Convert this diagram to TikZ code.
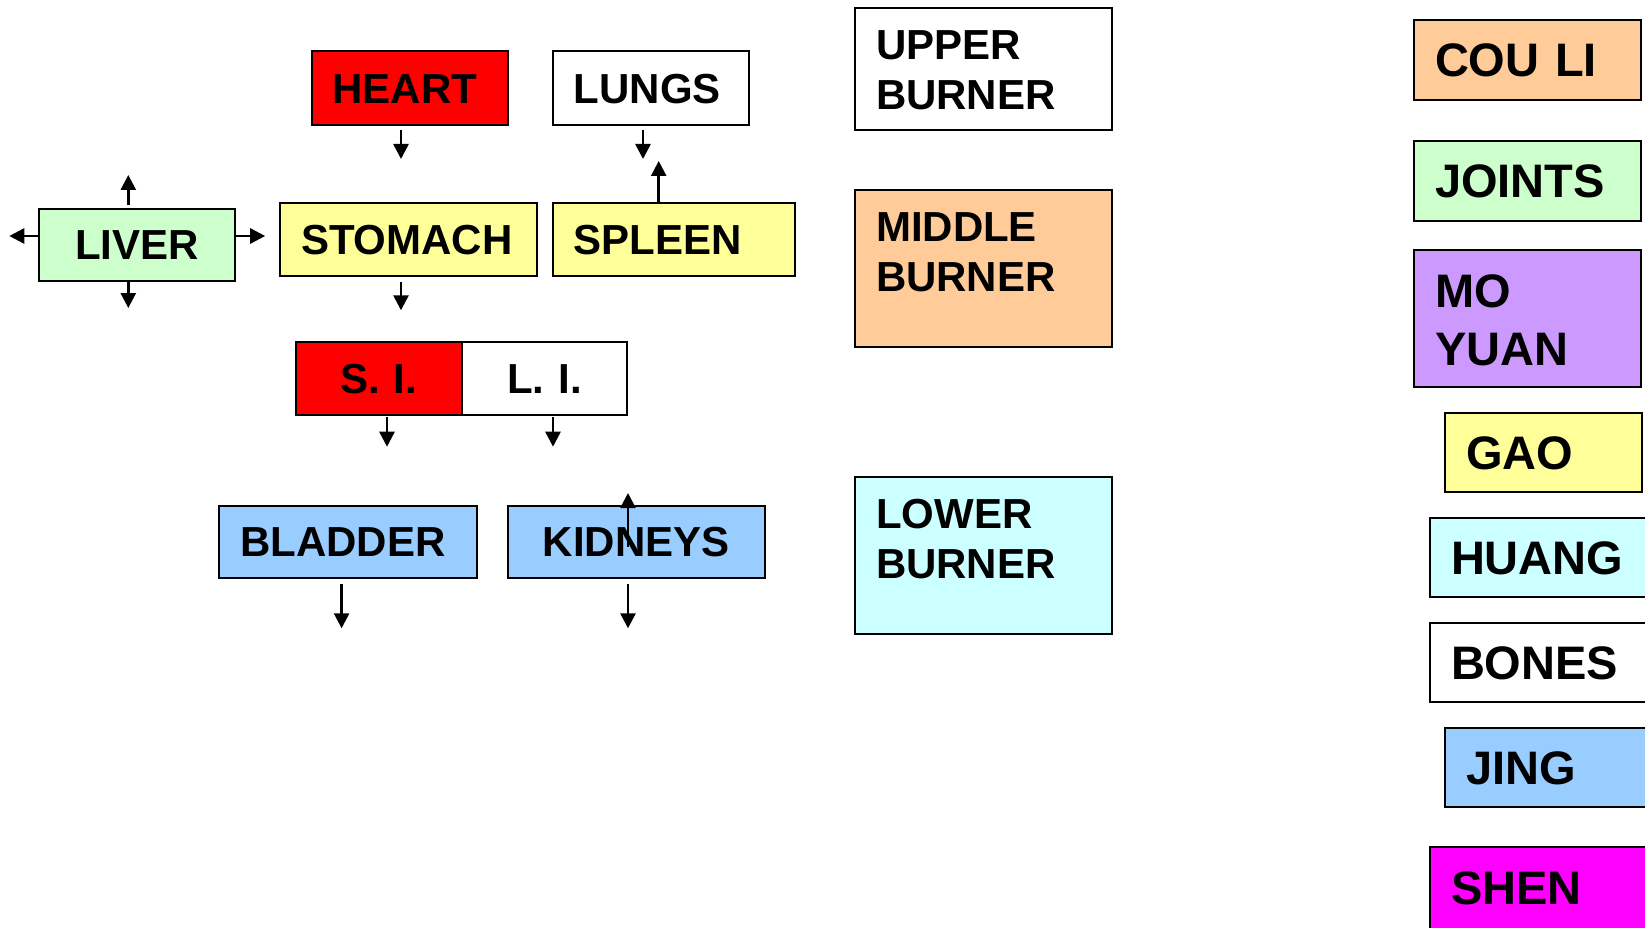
\documentclass[tikz,border=0pt]{standalone}
\usepackage{fontspec}
\setmainfont{Liberation Sans}
\usetikzlibrary{arrows.meta}
\definecolor{cRed}{HTML}{FF0000}
\definecolor{cGreen}{HTML}{CCFFCC}
\definecolor{cYellow}{HTML}{FFFF99}
\definecolor{cBlue}{HTML}{99CCFF}
\definecolor{cOrange}{HTML}{FFCC99}
\definecolor{cCyan}{HTML}{CCFFFF}
\definecolor{cPurple}{HTML}{CC99FF}
\definecolor{cMagenta}{HTML}{FF00FF}
\tikzset{
  box/.style={draw=black, line width=2pt, inner ysep=0pt, inner xsep=21pt, outer sep=0pt,
    anchor=north west, text height=30.1pt, text depth=0pt, align=left,
    font=\bfseries\fontsize{42}{50.5}\selectfont},
  big/.style={font=\bfseries\fontsize{47}{58}\selectfont, text height=33.6pt},
  arr/.style={line width=2.6pt, -{Triangle[width=15pt,length=15pt]}},
}
\begin{document}
\begin{tikzpicture}[x=1pt,y=-1pt]
\useasboundingbox (0,0) rectangle (1645,928);
\fill[white] (0,0) rectangle (1645,928);
\clip (0,0) rectangle (1645,928);

% organs
\node[box, fill=cRed, minimum width=196.2pt, minimum height=73.4pt, text width=154.2pt] (heart) at (311.5,51.4) {HEART};
\node[box, fill=white, minimum width=196.2pt, minimum height=73.4pt, text width=154.2pt] (lungs) at (552.8,51.4) {LUNGS};
\node[box, fill=cGreen, minimum width=196.2pt, minimum height=72.2pt, text width=154.2pt, align=center] (liver) at (38.8,208.8) {LIVER};
\node[box, fill=cYellow, minimum width=257pt, minimum height=73.4pt, text width=215pt] (stomach) at (280,202.5) {STOMACH};
\node[box, fill=cYellow, minimum width=242.4pt, minimum height=73.4pt, text width=200.4pt] (spleen) at (552.8,202.5) {SPLEEN};
\node[box, fill=cRed, minimum width=165.8pt, minimum height=73.4pt, text width=123.8pt, align=center] (si) at (295.8,342) {S. I.};
\node[box, fill=white, minimum width=165.7pt, minimum height=73.4pt, text width=123.7pt, align=center] (li) at (461.6,342) {L. I.};
\node[box, fill=cBlue, minimum width=258pt, minimum height=72.4pt, text width=216pt] (bladder) at (219.3,505.6) {BLADDER};
\node[box, fill=cBlue, minimum width=257pt, minimum height=72.4pt, text width=215pt, align=center] (kidneys) at (507.7,505.6) {KIDNEYS};

% burners
\node[box, fill=white, minimum width=257pt, minimum height=121.6pt, text width=215pt, text height=51pt, text depth=70.6pt] (upper) at (855,8.4) {UPPER\\BURNER};
\node[box, fill=cOrange, minimum width=257pt, minimum height=157pt, text width=215pt, text height=51pt, text depth=106pt] (middle) at (855,190) {MIDDLE\\BURNER};
\node[box, fill=cCyan, minimum width=257pt, minimum height=156.6pt, text width=215pt, text height=51pt, text depth=105.6pt] (lower) at (855,477) {LOWER\\BURNER};

% right column
\node[box, big, fill=cOrange, minimum width=227pt, minimum height=79.7pt, text width=185pt] (couli) at (1414,20) {COU LI};
\node[box, big, fill=cGreen, minimum width=227pt, minimum height=79.5pt, text width=185pt] (joints) at (1414,141) {JOINTS};
\node[box, big, fill=cPurple, minimum width=227pt, minimum height=137pt, text width=185pt, text height=57pt, text depth=80pt] (moyuan) at (1414,250) {MO\\YUAN};
\node[box, big, fill=cYellow, minimum width=196.5pt, minimum height=79pt, text width=154.5pt] (gao) at (1445,413) {GAO};
\node[box, big, fill=cCyan, minimum width=240pt, minimum height=79pt, text width=198pt] (huang) at (1430,518) {HUANG};
\node[box, big, fill=white, minimum width=240pt, minimum height=79pt, text width=198pt] (bones) at (1430,623) {BONES};
\node[box, big, fill=cBlue, minimum width=225pt, minimum height=79pt, text width=183pt] (jing) at (1445,728) {JING};
\node[box, big, fill=cMagenta, minimum width=240pt, minimum height=100pt, text width=198pt, text height=57pt, text depth=43pt] (shen) at (1430,847) {SHEN};

% arrow coordinates
\coordinate (h1) at (401,130);   \coordinate (h2) at (401,159);
\coordinate (g1) at (643,130);   \coordinate (g2) at (643,159);
\coordinate (p1) at (658.7,203.5); \coordinate (p2) at (658.7,161);
\coordinate (s1) at (401,281.7); \coordinate (s2) at (401,310.3);
\coordinate (lr1) at (235.8,236); \coordinate (lr2) at (265.2,236);
\coordinate (ll1) at (38.8,236);  \coordinate (ll2) at (9.3,236);
\coordinate (lu1) at (128.3,205); \coordinate (lu2) at (128.3,175);
\coordinate (ld1) at (128.3,281.5); \coordinate (ld2) at (128.3,308);
\coordinate (si1) at (387,417);  \coordinate (si2) at (387,446.7);
\coordinate (li1) at (553,417);  \coordinate (li2) at (553,446.7);
\coordinate (b1) at (341.6,584); \coordinate (b2) at (341.6,628.3);
\coordinate (k1) at (628,584);   \coordinate (k2) at (628,628.3);
\coordinate (ku1) at (628,547);  \coordinate (ku2) at (628,493);

\draw[arr] (h1) -- (h2);
\draw[arr] (g1) -- (g2);
\draw[arr] (p1) -- (p2);
\draw[arr] (s1) -- (s2);
\draw[arr] (lr1) -- (lr2);
\draw[arr] (ll1) -- (ll2);
\draw[arr] (lu1) -- (lu2);
\draw[arr] (ld1) -- (ld2);
\draw[arr] (si1) -- (si2);
\draw[arr] (li1) -- (li2);
\draw[arr] (b1) -- (b2);
\draw[arr] (k1) -- (k2);
\draw[arr] (ku1) -- (ku2);
\end{tikzpicture}
\end{document}
